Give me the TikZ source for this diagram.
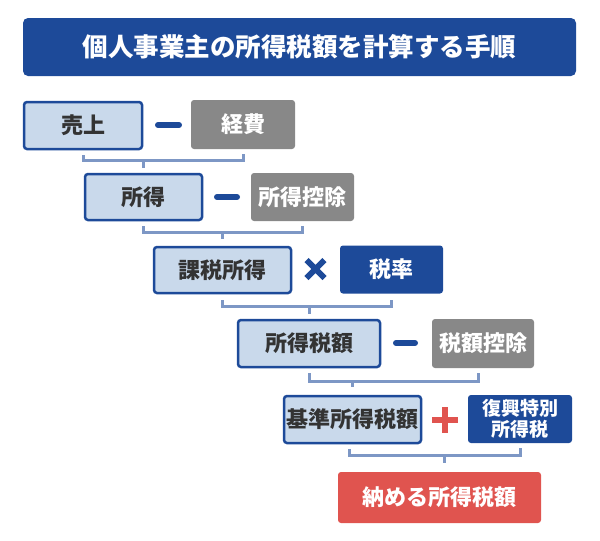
\documentclass[tikz,border=0pt]{standalone}
\usepackage{fontspec}
\setmainfont{Noto Sans CJK JP}
\usetikzlibrary{calc}
\definecolor{dblue}{HTML}{1D4A99}
\definecolor{lblue}{HTML}{C9D9EB}
\definecolor{gbox}{HTML}{888888}
\definecolor{rbox}{HTML}{E0544F}
\definecolor{brk}{HTML}{7D97C5}
\definecolor{tdark}{HTML}{333333}
\tikzset{
  base/.style={rounded corners=3pt, inner sep=0pt, font=\fontsize{22}{26}\selectfont\bfseries, align=center},
  lightbox/.style={base, fill=lblue, draw=dblue, line width=2.5pt, text=tdark},
  graybox/.style={base, fill=gbox, text=white},
  bluebox/.style={base, fill=dblue, text=white},
  redbox/.style={base, fill=rbox, text=white},
  bracketline/.style={draw=brk, line width=3pt},
  opsign/.style={line width=6pt},
}
\begin{document}
\begin{tikzpicture}[x=1pt,y=-1pt]
\useasboundingbox (0,0) rectangle (600,541);
\node[bluebox, rounded corners=5pt, minimum width=553pt, minimum height=58pt, font=\fontsize{25.5}{30}\selectfont\bfseries] (title) at (299.5,47) {個人事業主の所得税額を計算する手順};

\node[lightbox, minimum width=118pt, minimum height=47pt] (sales) at (83,125.5) {売上};
\node[graybox, minimum width=104pt, minimum height=49pt] (exp) at (243,124.5) {経費};

\node[lightbox, minimum width=117pt, minimum height=46pt] (inc) at (143.5,197) {所得};
\node[graybox, minimum width=103pt, minimum height=48pt] (ded) at (302.5,197) {所得控除};

\node[lightbox, minimum width=137pt, minimum height=46pt] (taxinc) at (222.5,270) {課税所得};
\node[bluebox, minimum width=103pt, minimum height=48pt] (rate) at (391.5,269.5) {税率};

\node[lightbox, minimum width=142pt, minimum height=47pt] (tax) at (309,343.5) {所得税額};
\node[graybox, minimum width=102pt, minimum height=49pt] (credit) at (483,343.5) {税額控除};

\node[lightbox, minimum width=137pt, minimum height=47pt] (basetax) at (352.5,419.5) {基準所得税額};
\node[bluebox, minimum width=104pt, minimum height=48pt, font=\fontsize{19}{21}\selectfont\bfseries] (recon) at (520,419) {復興特別\\所得税};

\node[redbox, minimum width=203pt, minimum height=51pt] (pay) at (439.5,497.5) {納める所得税額};

% operators
\draw[dblue, opsign, line cap=round] (158,125) -- (179,125);
\draw[dblue, opsign, line cap=round] (217,197) -- (237,197);
\draw[dblue, opsign, line cap=round] (396,343) -- (415,343);
\draw[dblue, opsign] (306.5,260) -- (324.5,278) (306.5,278) -- (324.5,260);
\draw[rbox, line width=6.5pt] (432,420) -- (458,420) (445,407) -- (445,433);

% brackets
\draw[bracketline] ([yshift=-5pt]sales.south) |- ([yshift=-11pt]exp.south) coordinate (h1) -- ([yshift=-5pt]exp.south);
\draw[bracketline] (inc.north |- h1) -- ([yshift=5pt]inc.north);

\draw[bracketline] ([yshift=-5pt]inc.south) |- ([yshift=-11pt]ded.south) coordinate (h2) -- ([yshift=-5pt]ded.south);
\draw[bracketline] (taxinc.north |- h2) -- ([yshift=7pt]taxinc.north);

\draw[bracketline] ([yshift=-6pt]taxinc.south) |- ([yshift=-13pt]rate.south) coordinate (h3) -- ([yshift=-6pt]rate.south);
\draw[bracketline] (tax.north |- h3) -- ([yshift=5pt]tax.north);

\draw[bracketline] ([yshift=-5pt]tax.south) |- ([xshift=-5pt,yshift=-13pt]credit.south) coordinate (h4) -- ([xshift=-5pt,yshift=-5pt]credit.south);
\draw[bracketline] (basetax.north |- h4) -- ([yshift=8pt]basetax.north);

\draw[bracketline] ([xshift=-3pt,yshift=-5pt]basetax.south) |- ([yshift=-12pt]recon.south) coordinate (h5) -- ([yshift=-5pt]recon.south);
\draw[bracketline] ([xshift=5pt]pay.north |- h5) -- ([xshift=5pt,yshift=9pt]pay.north);
\end{tikzpicture}
\end{document}
